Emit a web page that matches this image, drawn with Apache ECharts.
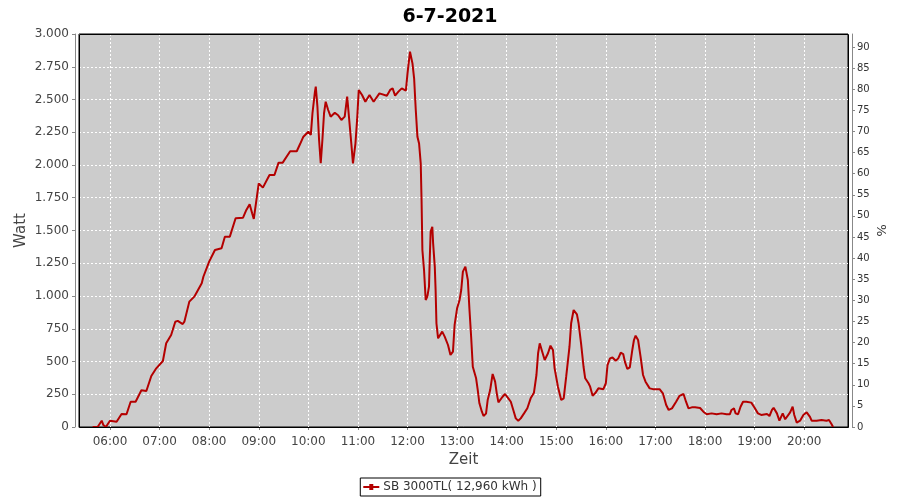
<!DOCTYPE html>
<html><head><meta charset="utf-8">
<script src="https://cdn.jsdelivr.net/npm/echarts@6/dist/echarts.min.js"></script>
<style>html,body{margin:0;padding:0;background:#fff}#c{width:900px;height:500px}</style>
</head><body><div id="c"></div>
<script>
const chartTitle = '6-7-2021';
const seriesName = 'SB 3000TL( 12,960 kWh )';
const xAxisName = 'Zeit';
const yAxisName = 'Watt';
const y2AxisName = '%';
// minutes since midnight
const minutes = [339,345,350,352,355,360,362,368,374,380,385,391,398,404,410,416,424,428,434,439,442,448,450,456,462,471,473,480,487,495,499,505,512,521,525,529,532,534,536,540,545,553,559,564,569,578,586,590,594,600,603,605,608,609,611,613,615,617,619,621,624,627,632,636,640,644,647,649,652,654,657,659,661,665,669,674,679,686,695,699,702,705,709,713,718,720,723,725,726,728,730,732,734,736,737,738,740,742,744,746,747,748,750,751,753,754,755,757,759,762,765,769,772,775,777,780,783,785,787,790,793,795,797,799,803,805,807,810,812,815,817,820,823,826,828,830,832,835,838,842,845,848,851,854,857,861,865,869,873,876,878,880,883,886,890,893,896,898,902,906,909,912,916,918,921,925,927,930,933,935,939,941,944,947,951,957,960,962,965,968,972,975,978,981,983,986,989,992,994,996,999,1002,1005,1008,1013,1017,1025,1029,1033,1036,1040,1045,1049,1054,1057,1060,1064,1068,1074,1078,1082,1088,1094,1100,1106,1110,1112,1115,1117,1120,1123,1126,1130,1136,1140,1144,1148,1155,1158,1161,1163,1167,1170,1174,1177,1179,1183,1186,1188,1191,1195,1199,1203,1207,1209,1215,1221,1227,1230,1233,1235];
const watts = [0,0,48,15,0,48,59,40,99,97,193,193,280,275,389,448,504,639,702,804,810,786,804,957,995,1097,1147,1262,1351,1364,1453,1453,1593,1598,1657,1700,1631,1588,1600,1860,1827,1924,1924,2018,2018,2105,2105,2160,2216,2254,2229,2395,2560,2598,2445,2191,2013,2191,2395,2483,2420,2369,2399,2380,2344,2369,2522,2510,2164,2013,2164,2344,2573,2534,2483,2534,2483,2547,2529,2573,2585,2529,2560,2585,2567,2700,2865,2865,2776,2662,2420,2216,2164,2013,1733,1351,1199,970,995,1071,1300,1491,1529,1402,1224,1046,792,677,690,728,690,626,550,575,779,906,970,1046,1186,1224,1122,893,689,460,372,282,181,117,84,102,206,282,405,346,257,188,193,231,252,219,193,130,66,48,66,104,143,219,262,397,563,639,575,511,563,621,588,448,308,206,219,384,613,792,893,860,792,639,460,372,334,308,239,257,295,289,334,473,524,531,506,524,567,557,499,443,455,588,664,697,664,537,397,346,295,289,289,257,168,130,142,193,237,252,193,142,150,150,145,117,97,104,97,104,97,97,130,142,104,97,155,193,193,186,147,104,92,99,84,130,147,104,48,104,59,48,112,155,92,33,48,92,112,77,48,48,53,48,53,23,0];
const axisStartMin = 322.5, axisEndMin = 1253;
const wattMin = 0, wattMax = 3000, wattStep = 250;
const pctMin = 0, pctMax = 93.08, pctStep = 5;

const FONT = 'DejaVu Sans';
const G = { left: 79, right: 52, top: 34, bottom: 73 };
const W = 900, H = 500;
const base = Date.UTC(2021, 6, 6, 0, 0, 0);
const toTime = m => base + m * 60000;
const pad = n => (n < 10 ? '0' : '') + n;
const fmtTime = v => { const d = new Date(v); return pad(d.getUTCHours()) + ':' + pad(d.getUTCMinutes()); };
const fmtWatt = v => { const s = String(Math.round(v)); return s.replace(/\B(?=(\d{3})+(?!\d))/g, '.'); };

const chart = echarts.init(document.getElementById('c'), null, { renderer: 'canvas' });
chart.setOption({
  useUTC: true,
  animation: false,
  backgroundColor: '#ffffff',
  title: {
    text: chartTitle, left: 'center', top: 3,
    textStyle: { fontFamily: FONT, fontSize: 19, fontWeight: 'bold', color: '#000' }
  },
  grid: {
    left: G.left, right: G.right, top: G.top, bottom: G.bottom,
    show: true, backgroundColor: '#cccccc', borderColor: '#000', borderWidth: 1
  },
  graphic: [{
    type: 'rect', z: 100, silent: true,
    shape: { x: G.left + 0.5, y: G.top + 0.5, width: W - G.left - G.right, height: H - G.top - G.bottom },
    style: { fill: null, stroke: '#000', lineWidth: 1 }
  }],
  legend: {
    data: [{ name: seriesName, icon: 'path://M0,5 L16,5 L16,7 L0,7 Z M6,3 L10,3 L10,9 L6,9 Z' }],
    left: 'center', top: 478,
    borderColor: '#000', borderWidth: 1, borderRadius: 0,
    padding: [3, 4, 3, 3], itemWidth: 16, itemHeight: 8, itemGap: 4,
    textStyle: { fontFamily: FONT, fontSize: 12, color: '#333', padding: [0, 0, 0, -1] }
  },
  xAxis: {
    type: 'time', min: toTime(axisStartMin), max: toTime(axisEndMin),
    minInterval: 3600000, maxInterval: 3600000, offset: 4,
    name: xAxisName, nameLocation: 'middle', nameGap: 22, nameMoveOverlap: false,
    nameTextStyle: { fontFamily: FONT, fontSize: 15, color: '#444' },
    axisLine: { show: true, lineStyle: { color: '#888', width: 1 } },
    axisTick: { show: true, length: 3, lineStyle: { color: '#888' } },
    axisLabel: { fontFamily: FONT, fontSize: 12, color: '#444', margin: 5, showMinLabel: false, showMaxLabel: false,
      formatter: v => fmtTime(v) },
    splitLine: { show: true, lineStyle: { color: '#ffffff', type: [2, 2], width: 1 } }
  },
  yAxis: [{
    type: 'value', min: wattMin, max: wattMax, interval: wattStep, offset: 4,
    name: yAxisName, nameLocation: 'middle', nameGap: 46, nameMoveOverlap: false,
    nameTextStyle: { fontFamily: FONT, fontSize: 15, color: '#444' },
    axisLine: { show: true, lineStyle: { color: '#888', width: 1 } },
    axisTick: { show: true, length: 3, lineStyle: { color: '#888' } },
    axisLabel: { fontFamily: FONT, fontSize: 12, color: '#444', margin: 6, formatter: fmtWatt },
    splitLine: { show: true, lineStyle: { color: '#ffffff', type: [2, 2], width: 1 } }
  }, {
    type: 'value', position: 'right', min: pctMin, max: pctMax, interval: pctStep, offset: 4,
    name: y2AxisName, nameLocation: 'middle', nameGap: 22, nameRotate: -90, nameMoveOverlap: false,
    nameTextStyle: { fontFamily: FONT, fontSize: 13, color: '#333' },
    axisLine: { show: true, lineStyle: { color: '#888', width: 1 } },
    axisTick: { show: true, length: 3, lineStyle: { color: '#888' } },
    axisLabel: { fontFamily: FONT, fontSize: 10, color: '#333', margin: 5, showMaxLabel: false,
      formatter: v => (Math.abs(v % pctStep) < 1e-6 ? String(v) : '') },
    splitLine: { show: false }
  }],
  series: [{
    name: seriesName, type: 'line', yAxisIndex: 0,
    data: minutes.map((m, i) => [toTime(m), watts[i]]),
    showSymbol: false, symbol: 'none',
    lineStyle: { color: '#b40000', width: 2 },
    itemStyle: { color: '#b40000' }
  }]
});
</script>
</body></html>
